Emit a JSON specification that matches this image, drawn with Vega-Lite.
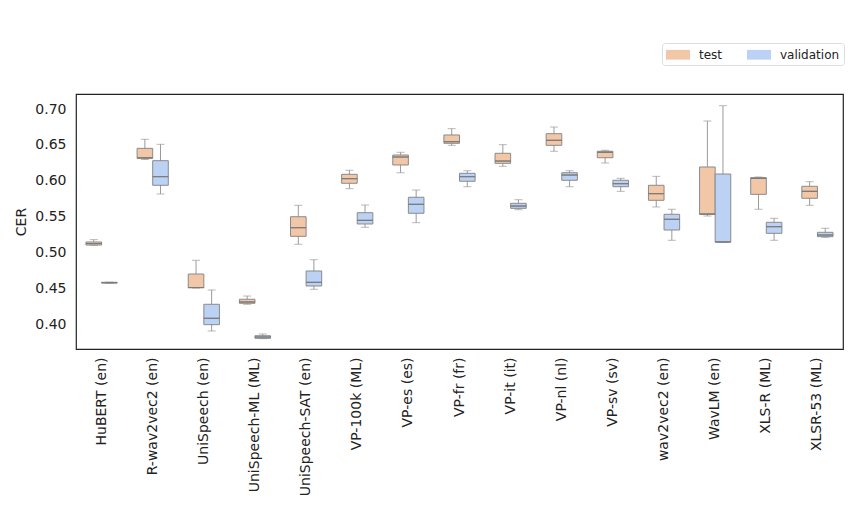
{
  "$schema": "https://vega.github.io/schema/vega-lite/v6.json",
  "width": 767,
  "height": 255,
  "autosize": "none",
  "padding": {"left": 76, "top": 94, "right": 16, "bottom": 166},
  "background": "white",
  "config": {
    "font": "DejaVu Sans",
    "view": {"stroke": "#222222", "strokeWidth": 1.2},
    "axis": {"grid": false, "ticks": false, "domain": false, "labelFont": "DejaVu Sans", "titleFont": "DejaVu Sans", "labelColor": "#222222", "titleColor": "#222222", "labelFontSize": 14, "titleFontSize": 14, "titleFontWeight": "normal"}
  },
  "data": {
    "values": [
      {"model": "HuBERT (en)", "split": "test", "min": 0.510, "q1": 0.5105, "median": 0.5125, "q3": 0.5147, "max": 0.518},
      {"model": "HuBERT (en)", "split": "validation", "min": 0.4572, "q1": 0.4575, "median": 0.458, "q3": 0.4585, "max": 0.4588},
      {"model": "R-wav2vec2 (en)", "split": "test", "min": 0.6296, "q1": 0.6313, "median": 0.632, "q3": 0.6452, "max": 0.6578},
      {"model": "R-wav2vec2 (en)", "split": "validation", "min": 0.5816, "q1": 0.5937, "median": 0.6057, "q3": 0.628, "max": 0.6508},
      {"model": "UniSpeech (en)", "split": "test", "min": 0.4505, "q1": 0.451, "median": 0.4512, "q3": 0.4701, "max": 0.4892},
      {"model": "UniSpeech (en)", "split": "validation", "min": 0.3907, "q1": 0.3995, "median": 0.4084, "q3": 0.4279, "max": 0.4478},
      {"model": "UniSpeech-ML (ML)", "split": "test", "min": 0.4279, "q1": 0.4293, "median": 0.4311, "q3": 0.4349, "max": 0.4394},
      {"model": "UniSpeech-ML (ML)", "split": "validation", "min": 0.380, "q1": 0.3805, "median": 0.3823, "q3": 0.3841, "max": 0.3865},
      {"model": "UniSpeech-SAT (en)", "split": "test", "min": 0.5115, "q1": 0.5226, "median": 0.5346, "q3": 0.5499, "max": 0.5658},
      {"model": "UniSpeech-SAT (en)", "split": "validation", "min": 0.4488, "q1": 0.4534, "median": 0.4585, "q3": 0.4743, "max": 0.49},
      {"model": "VP-100k (ML)", "split": "test", "min": 0.589, "q1": 0.5965, "median": 0.6029, "q3": 0.609, "max": 0.6146},
      {"model": "VP-100k (ML)", "split": "validation", "min": 0.5352, "q1": 0.5398, "median": 0.5449, "q3": 0.5555, "max": 0.5662},
      {"model": "VP-es (es)", "split": "test", "min": 0.6112, "q1": 0.622, "median": 0.6331, "q3": 0.6359, "max": 0.6397},
      {"model": "VP-es (es)", "split": "validation", "min": 0.5416, "q1": 0.5547, "median": 0.5672, "q3": 0.577, "max": 0.5871},
      {"model": "VP-fr (fr)", "split": "test", "min": 0.6494, "q1": 0.6522, "median": 0.6544, "q3": 0.6638, "max": 0.6726},
      {"model": "VP-fr (fr)", "split": "validation", "min": 0.5917, "q1": 0.5993, "median": 0.6057, "q3": 0.6104, "max": 0.614},
      {"model": "VP-it (it)", "split": "test", "min": 0.6202, "q1": 0.6243, "median": 0.6275, "q3": 0.6383, "max": 0.6503},
      {"model": "VP-it (it)", "split": "validation", "min": 0.5597, "q1": 0.5616, "median": 0.5648, "q3": 0.5686, "max": 0.5736},
      {"model": "VP-nl (nl)", "split": "test", "min": 0.6411, "q1": 0.6494, "median": 0.6564, "q3": 0.6656, "max": 0.6749},
      {"model": "VP-nl (nl)", "split": "validation", "min": 0.5917, "q1": 0.6007, "median": 0.608, "q3": 0.6112, "max": 0.614},
      {"model": "VP-sv (sv)", "split": "test", "min": 0.6248, "q1": 0.6321, "median": 0.6397, "q3": 0.6411, "max": 0.6425},
      {"model": "VP-sv (sv)", "split": "validation", "min": 0.5853, "q1": 0.5917, "median": 0.5959, "q3": 0.6007, "max": 0.6034},
      {"model": "wav2vec2 (en)", "split": "test", "min": 0.5635, "q1": 0.5728, "median": 0.582, "q3": 0.5937, "max": 0.6062},
      {"model": "wav2vec2 (en)", "split": "validation", "min": 0.5171, "q1": 0.5314, "median": 0.5463, "q3": 0.5533, "max": 0.5603},
      {"model": "WavLM (en)", "split": "test", "min": 0.5509, "q1": 0.5533, "median": 0.5537, "q3": 0.6192, "max": 0.6833},
      {"model": "WavLM (en)", "split": "validation", "min": 0.5145, "q1": 0.5147, "median": 0.5147, "q3": 0.6094, "max": 0.7046},
      {"model": "XLS-R (ML)", "split": "test", "min": 0.5603, "q1": 0.5811, "median": 0.6034, "q3": 0.6043, "max": 0.6053},
      {"model": "XLS-R (ML)", "split": "validation", "min": 0.5171, "q1": 0.5268, "median": 0.536, "q3": 0.5421, "max": 0.5477},
      {"model": "XLSR-53 (ML)", "split": "test", "min": 0.5658, "q1": 0.5756, "median": 0.5853, "q3": 0.5923, "max": 0.5987},
      {"model": "XLSR-53 (ML)", "split": "validation", "min": 0.5212, "q1": 0.5221, "median": 0.5244, "q3": 0.5282, "max": 0.5338}
    ]
  },
  "encoding": {
    "x": {
      "field": "model", "type": "nominal", "sort": null, "title": null,
      "scale": {"paddingInner": 0.39, "paddingOuter": 0.195},
      "axis": {"labelAngle": -90, "labelPadding": 8, "labelAlign": "right", "labelBaseline": "middle"}
    },
    "xOffset": {"field": "split", "type": "nominal", "sort": ["test", "validation"], "scale": {"paddingInner": 0, "paddingOuter": 0}}
  },
  "layer": [
    {
      "mark": {"type": "rule", "color": "#9a9a9a", "strokeWidth": 1},
      "encoding": {
        "y": {"field": "min", "type": "quantitative", "title": "CER",
          "scale": {"domain": [0.3656, 0.7209], "nice": false, "zero": false},
          "axis": {"values": [0.40, 0.45, 0.50, 0.55, 0.60, 0.65, 0.70], "format": ".2f", "labelPadding": 10, "titlePadding": 6}},
        "y2": {"field": "max"}
      }
    },
    {
      "mark": {"type": "tick", "color": "#9a9a9a", "thickness": 1, "size": 8},
      "encoding": {"y": {"field": "min", "type": "quantitative"}}
    },
    {
      "mark": {"type": "tick", "color": "#9a9a9a", "thickness": 1, "size": 8},
      "encoding": {"y": {"field": "max", "type": "quantitative"}}
    },
    {
      "mark": {"type": "bar", "stroke": "#8a8a8a", "strokeWidth": 1, "opacity": 1},
      "encoding": {
        "y": {"field": "q1", "type": "quantitative"},
        "y2": {"field": "q3"},
        "color": {
          "field": "split", "type": "nominal",
          "scale": {"domain": ["test", "validation"], "range": ["#f2c7a8", "#bcd2f5"]},
          "legend": {
            "title": null, "orient": "none", "legendX": 586, "legendY": -51,
            "direction": "horizontal", "columns": 2, "columnPadding": 24,
            "symbolType": "M-1,-0.65H2.2V0.65H-1Z", "symbolSize": 225,
            "symbolStrokeWidth": 0, "labelFontSize": 12, "labelColor": "#222222", "labelFont": "DejaVu Sans",
            "labelOffset": 18, "padding": 4, "strokeColor": "#dddddd", "cornerRadius": 3, "fillColor": "white"
          }
        }
      }
    },
    {
      "mark": {"type": "bar", "stroke": "#7a7a7a", "strokeWidth": 1, "fillOpacity": 0},
      "encoding": {
        "y": {"field": "median", "type": "quantitative"},
        "y2": {"field": "median"}
      }
    }
  ]
}
